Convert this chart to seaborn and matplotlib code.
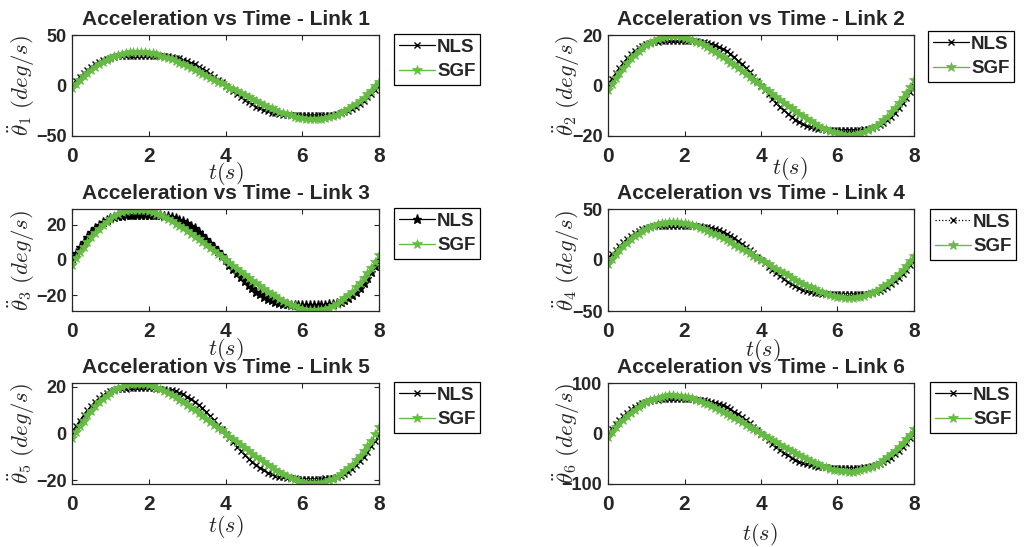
import numpy as np
import pandas as pd
import matplotlib
matplotlib.use('Agg')
import matplotlib.pyplot as plt
import seaborn as sns

sns.set_style('ticks')
plt.rcParams['font.family'] = ['Liberation Sans', 'DejaVu Sans']
plt.rcParams['mathtext.fontset'] = 'cm'
plt.rcParams['xtick.direction'] = 'in'
plt.rcParams['ytick.direction'] = 'in'

# time samples (s)
t = np.linspace(0, 8, 81)

sgf_1 = [-2.5,1.6,5.4,9,12.3,15.4,18.3,20.9,23.3,25.5,27.4,29.1,30.5,31.6,32.5,33.1,33.4,33.5,33.4,33,32.5,31.7,30.8,29.7,28.5,27.2,25.8,24.2,22.6,20.9,19.2,17.4,15.5,13.6,11.7,9.8,7.9,5.9,3.9,2,0,
         -2,-3.9,-5.9,-7.9,-9.8,-11.7,-13.6,-15.5,-17.4,-19.2,-20.9,-22.6,-24.2,-25.8,-27.2,-28.5,-29.7,-30.8,-31.7,
         -32.5,-33,-33.4,-33.5,-33.4,-33.1,-32.5,-31.6,-30.5,-29.1,-27.4,-25.5,-23.2,-20.7,-18.2,-15.3,-12.1,-8.7,-5,-0.9,3.5]
nls_1 = [1,4.7,8.4,11.9,15.3,18.3,21,23.2,25.1,26.6,27.7,28.5,29,29.4,29.6,29.7,29.7,29.7,29.7,29.7,29.7,29.7,29.6,29.5,29.2,28.9,28.4,27.7,26.8,25.7,24.3,22.7,20.9,18.8,16.6,14.1,11.5,8.8,5.9,3,0,
         -3,-5.9,-8.8,-11.5,-14.1,-16.6,-18.8,-20.9,-22.7,-24.3,-25.7,-26.8,-27.7,-28.4,-28.9,-29.2,-29.5,-29.6,-29.7,-29.7,-29.7,-29.7,-29.7,-29.7,-29.7,-29.6,-29.4,-29,-28.5,-27.7,-26.6,-25.1,-23.2,
         -20.9,-18.2,-15.2,-11.8,-8.1,-4.3,-0.5]
sgf_2 = [-1.8,0.7,3,5.1,7.1,9,10.7,12.2,13.6,14.9,16,17,17.8,18.5,19,19.3,19.5,19.6,19.5,19.3,19,18.6,18,17.4,16.7,15.9,15.1,14.2,13.2,12.2,11.2,10.2,9.1,8,6.9,5.7,4.6,3.5,2.3,1.2,0,
         -1.2,-2.3,-3.5,-4.6,-5.7,-6.9,-8,-9.1,-10.2,-11.2,-12.2,-13.2,-14.2,-15.1,-15.9,-16.7,-17.4,-18,-18.6,-19,-19.3,-19.5,-19.6,-19.5,-19.3,-19,-18.5,-17.8,-17,-16,-14.9,-13.6,-12.3,
         -10.6,-8.9,-7,-5,-2.8,-0.4,2.2]
nls_2 = [0.5,2.7,4.9,7,9,10.8,12.4,13.8,14.9,15.7,16.4,16.9,17.2,17.4,17.5,17.6,17.6,17.6,17.6,17.6,17.6,17.6,17.5,17.5,17.3,17.1,16.8,16.4,15.9,15.2,14.4,13.5,12.4,11.2,9.8,8.4,6.8,5.2,3.5,1.8,0,
         -1.8,-3.5,-5.2,-6.8,-8.4,-9.8,-11.2,-12.4,-13.5,-14.4,-15.2,-15.9,-16.4,-16.8,-17.1,-17.3,-17.5,-17.5,-17.6,-17.6,-17.6,-17.6,-17.6,-17.6,-17.6,-17.5,-17.4,-17.2,-16.9,-16.4,-15.7,-14.9,-13.8,
         -12.4,-10.8,-9,-7,-4.8,-2.6,-0.3]
sgf_3 = [-2.9,0.9,4.3,7.5,10.4,13.1,15.6,17.9,20,21.9,23.6,25,26.2,27.2,27.9,28.4,28.7,28.8,28.7,28.4,27.9,27.3,26.5,25.6,24.5,23.4,22.1,20.8,19.4,18,16.5,14.9,13.3,11.7,10.1,8.4,6.8,5.1,3.4,1.7,0,
         -1.7,-3.4,-5.1,-6.8,-8.4,-10.1,-11.7,-13.3,-14.9,-16.5,-18,-19.4,-20.8,-22.1,-23.4,-24.5,-25.6,-26.5,-27.3,-27.9,-28.4,-28.7,-28.8,-28.7,-28.4,-27.9,-27.2,-26.2,-25,-23.6,-21.9,-20,-18.1,
         -15.6,-13.1,-10.4,-7.5,-4.3,-0.9,2.9]
nls_3 = [1.1,4.2,7.3,10.4,13.2,15.8,18.1,20,21.6,22.9,23.9,24.6,25,25.3,25.5,25.6,25.6,25.6,25.6,25.6,25.6,25.6,25.5,25.4,25.2,24.9,24.5,23.9,23.1,22.1,21,19.6,18,16.2,14.3,12.2,9.9,7.6,5.1,2.6,0,
         -2.6,-5.1,-7.6,-9.9,-12.2,-14.3,-16.2,-18,-19.6,-21,-22.1,-23.1,-23.9,-24.5,-24.9,-25.2,-25.4,-25.5,-25.6,-25.6,-25.6,-25.6,-25.6,-25.6,-25.6,-25.5,-25.3,-25,-24.6,-23.9,-22.9,-21.6,-19.9,
         -18,-15.7,-13,-10,-6.8,-3.5,0]
sgf_4 = [-4,1,5.5,9.6,13.4,16.9,20.2,23.2,25.9,28.3,30.4,32.3,33.8,35.1,36,36.7,37.1,37.2,37,36.7,36,35.2,34.2,33,31.7,30.2,28.6,26.9,25.1,23.2,21.3,19.3,17.2,15.1,13,10.9,8.7,6.6,4.4,2.2,0,
         -2.2,-4.4,-6.6,-8.7,-10.9,-13,-15.1,-17.2,-19.3,-21.3,-23.2,-25.1,-26.9,-28.6,-30.2,-31.7,-33,-34.2,-35.2,-36,-36.7,-37,-37.2,-37.1,-36.7,-36,-35.1,-33.8,-32.3,-30.4,-28.3,-25.9,-23.4,
         -20.2,-16.9,-13.4,-9.6,-5.5,-1,4]
nls_4 = [2.5,6.2,10.1,13.9,17.5,20.9,23.8,26.4,28.4,30.1,31.3,32.2,32.9,33.2,33.5,33.6,33.6,33.6,33.6,33.6,33.6,33.6,33.5,33.3,33.1,32.7,32.1,31.3,30.3,29,27.5,25.7,23.6,21.3,18.8,16,13,9.9,6.7,3.4,0,
         -3.4,-6.7,-9.9,-13,-16,-18.8,-21.3,-23.6,-25.7,-27.5,-29,-30.3,-31.3,-32.1,-32.7,-33.1,-33.3,-33.5,-33.6,-33.6,-33.6,-33.6,-33.6,-33.6,-33.6,-33.5,-33.2,-32.9,-32.2,-31.3,-30.1,-28.4,-26.3,
         -23.7,-20.7,-17.2,-13.5,-9.4,-5.2,-1]
sgf_5 = [-2.1,0.7,3.2,5.5,7.7,9.7,11.6,13.3,14.8,16.2,17.4,18.5,19.4,20.1,20.6,21,21.2,21.3,21.2,21,20.6,20.2,19.6,18.9,18.1,17.3,16.4,15.4,14.4,13.3,12.2,11,9.9,8.7,7.5,6.2,5,3.8,2.5,1.3,0,
         -1.3,-2.5,-3.8,-5,-6.2,-7.5,-8.7,-9.9,-11,-12.2,-13.3,-14.4,-15.4,-16.4,-17.3,-18.1,-18.9,-19.6,-20.2,-20.6,-21,-21.2,-21.3,-21.2,-21,-20.6,-20.1,-19.4,-18.5,-17.4,-16.2,-14.8,-13.4,
         -11.5,-9.6,-7.6,-5.4,-3,-0.3,2.6]
nls_5 = [0.7,3.1,5.5,7.8,9.9,11.9,13.6,15.1,16.3,17.3,18,18.5,18.9,19.1,19.2,19.3,19.3,19.3,19.3,19.3,19.3,19.3,19.2,19.2,19,18.8,18.4,18,17.4,16.7,15.8,14.8,13.6,12.2,10.8,9.2,7.5,5.7,3.8,1.9,0,
         -1.9,-3.8,-5.7,-7.5,-9.2,-10.8,-12.2,-13.6,-14.8,-15.8,-16.7,-17.4,-18,-18.4,-18.8,-19,-19.2,-19.2,-19.3,-19.3,-19.3,-19.3,-19.3,-19.3,-19.3,-19.2,-19.1,-18.9,-18.5,-18,-17.3,-16.3,-15.1,
         -13.6,-11.9,-9.9,-7.8,-5.5,-3.1,-0.7]
sgf_6 = [-6.3,3.2,11.9,20,27.5,34.6,41.1,47.1,52.6,57.5,61.8,65.6,68.7,71.2,73.2,74.5,75.3,75.5,75.2,74.4,73.2,71.5,69.4,67,64.3,61.3,58,54.6,50.9,47.1,43.2,39.1,35,30.7,26.4,22.1,17.7,13.3,8.9,4.4,0,
         -4.4,-8.9,-13.3,-17.7,-22.1,-26.4,-30.7,-35,-39.1,-43.2,-47.1,-50.9,-54.6,-58,-61.3,-64.3,-67,-69.4,-71.5,-73.2,-74.4,-75.2,-75.5,-75.3,-74.5,-73.2,-71.2,-68.7,-65.5,-61.8,-57.5,-52.5,-47,-40.9,-34.3,-27.2,-19.5,-11.1,-2,8]
nls_6 = [0.5,9.5,18.3,26.7,34.5,41.5,47.7,52.9,57.2,60.6,63.2,65,66.3,67,67.5,67.7,67.8,67.8,67.8,67.8,67.8,67.7,67.6,67.3,66.8,66,64.8,63.2,61.1,58.6,55.5,51.9,47.7,43,37.9,32.3,26.3,20,13.5,6.8,0,
         -6.8,-13.5,-20,-26.3,-32.3,-37.9,-43,-47.7,-51.9,-55.5,-58.6,-61.1,-63.2,-64.8,-66,-66.8,-67.3,-67.6,-67.7,-67.8,-67.8,-67.8,-67.8,-67.8,-67.7,-67.5,-67,-66.3,-65,-63.2,-60.6,-57.2,-52.9,-47.6,-41.5,-34.4,-26.5,-18.1,-9.1,0]

data = {1: (sgf_1, nls_1), 2: (sgf_2, nls_2), 3: (sgf_3, nls_3),
        4: (sgf_4, nls_4), 5: (sgf_5, nls_5), 6: (sgf_6, nls_6)}

xticks = [0, 2, 4, 6, 8]
ylims = {1: (-50, 50), 2: (-20, 20), 3: (-29.1, 29.1), 4: (-50, 50), 5: (-21.6, 21.6), 6: (-100, 100)}
yticks = {1: [-50, 0, 50], 2: [-20, 0, 20], 3: [-20, 0, 20], 4: [-50, 0, 50], 5: [-20, 0, 20], 6: [-100, 0, 100]}
nls_style = {1: ('-', 'x'), 2: ('-', 'x'), 3: ('-', '*'), 4: (':', 'x'), 5: ('-', 'x'), 6: ('-', 'x')}

W, H = 1025, 547
fig = plt.figure(figsize=(W / 100, H / 100), dpi=100)
colx = [72, 608]
colw = [307, 306]
rowy = [(35, 136), (209, 311), (383, 484)]
leg_pos = {1: (394, 34), 2: (928, 31), 3: (394, 208), 4: (930, 209), 5: (394, 382), 6: (930, 382)}
xlab = {1: (0.5, -0.37), 2: (0.595, -0.32), 3: (0.5, -0.38), 4: (0.507, -0.39), 5: (0.5, -0.425), 6: (0.497, -0.5)}
green = '#66bb44'

for link in range(1, 7):
    r = (link - 1) // 2
    c = (link - 1) % 2
    top, bot = rowy[r]
    ax = fig.add_axes([colx[c] / W, 1 - bot / H, colw[c] / W, (bot - top) / H])
    sgf, nls = data[link]
    ls, mk = nls_style[link]
    ms = 6.5 if mk == '*' else 4
    sns.lineplot(x=t, y=nls, ax=ax, color='black', linestyle=ls, marker=mk, markersize=ms,
                 markeredgewidth=1, markeredgecolor='black', markerfacecolor='black',
                 linewidth=0.9, label='NLS', estimator=None)
    sns.lineplot(x=t, y=sgf, ax=ax, color=green, linestyle='-', marker='*', markersize=7.5,
                 markeredgewidth=0.5, markeredgecolor=green, markerfacecolor=green,
                 linewidth=1.0, label='SGF', estimator=None)
    ax.set_xlim(0, 8)
    ax.set_ylim(*ylims[link])
    ax.set_xticks(xticks)
    ax.set_yticks(yticks[link])
    ax.tick_params(axis='both', which='both', top=True, right=True, length=3.5, width=0.8)
    ax.tick_params(axis='x', labelsize=15, pad=8)
    ax.tick_params(axis='y', labelsize=13, pad=4)
    for lab in ax.get_xticklabels() + ax.get_yticklabels():
        lab.set_fontweight('bold')
        lab.set_color('#262626')
    for sp in ax.spines.values():
        sp.set_linewidth(0.9)
        sp.set_color('#262626')
    ax.set_title(f'Acceleration vs Time - Link {link}', fontsize=15, fontweight='bold', pad=7)
    ax.set_xlabel(r'$t(s)$', fontsize=16)
    ax.xaxis.set_label_coords(*xlab[link])
    ax.xaxis.label.set_va('center')
    ax.set_ylabel(r'$\ddot{\theta}_%d\ (deg/s)$' % link, fontsize=16.5)
    ax.yaxis.set_label_coords(-0.163 if c == 0 else -0.137, 0.5)
    ax.yaxis.label.set_va('center')
    lx, ly = leg_pos[link]
    leg = ax.legend(loc='upper left', bbox_to_anchor=(lx / W, 1 - ly / H), bbox_transform=fig.transFigure,
                    fancybox=False, framealpha=1, edgecolor='black',
                    prop={'weight': 'bold', 'size': 13.5}, handlelength=1.95, handletextpad=0.1,
                    borderpad=0.25, labelspacing=0.4, borderaxespad=0)
    leg.get_frame().set_linewidth(0.9)

fig.savefig('out.png', dpi=100)
